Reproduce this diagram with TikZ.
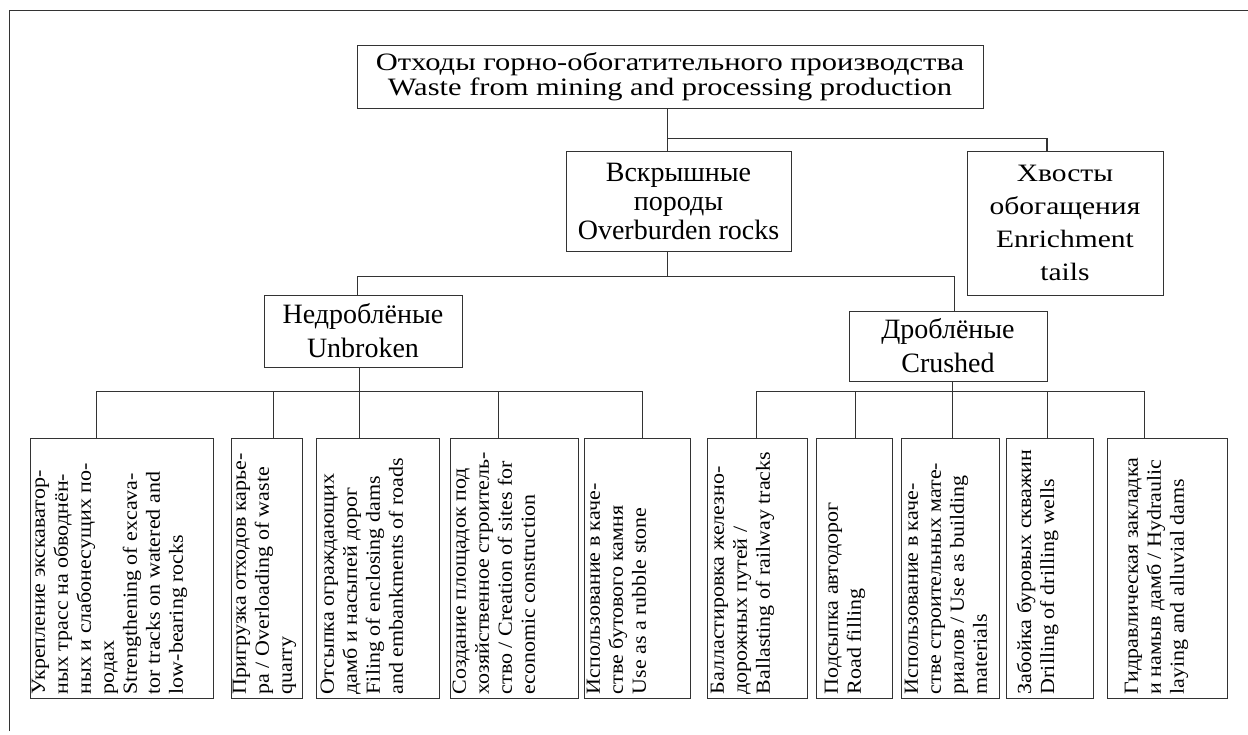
\documentclass[tikz,border=0pt]{standalone}
\usepackage{fontspec}
\setmainfont{Liberation Serif}
\newfontfamily\cmlike[FakeStretch=1.1]{Liberation Serif}
\newfontfamily\tailfont[FakeStretch=1.18]{Liberation Serif}
\newfontfamily\topfont[FakeStretch=1.22]{Liberation Serif}
\usetikzlibrary{calc}
\begin{document}
\begin{tikzpicture}[x=1pt,y=-1pt,
  box/.style={draw=black!80, line width=0.9pt, inner sep=0pt},
  conn/.style={draw=black!80, line width=0.9pt},
  vtext/.style={rotate=90, anchor=north west, inner sep=0pt, align=left,
    font=\cmlike\fontsize{20}{23}\selectfont},
]
\useasboundingbox (0,0) rectangle (1248,734);
% frame
\draw[conn] (9,731) -- (9,10) -- (1248,10);

% upper nodes
\node[box, minimum width=626, minimum height=63, align=center,
  font=\topfont\fontsize{25}{25}\selectfont] (top) at (670,76.5)
  {Отходы горно-обогатительного производства\\Waste from mining and processing production};
\node[box, minimum width=225, minimum height=100, align=center,
  font=\fontsize{28}{29}\selectfont] (vskr) at (678.5,201)
  {Вскрышные\\породы\\Overburden rocks};
\node[box, minimum width=196, minimum height=144, align=center,
  font=\tailfont\fontsize{25}{33}\selectfont] (tails) at (1065,223)
  {Хвосты\\обогащения\\Enrichment\\tails};
\node[box, minimum width=198, minimum height=72, align=center,
  font=\fontsize{28}{34}\selectfont] (unbr) at (363,331)
  {Недроблёные\\Unbroken};
\node[box, minimum width=198, minimum height=70, align=center,
  font=\fontsize{28}{34}\selectfont] (crush) at (948,346)
  {Дроблёные\\Crushed};

% bottom boxes
\node[box, minimum width=183, minimum height=260] (b1) at (121.5,568) {};
\node[box, minimum width=71,  minimum height=260] (b2) at (266.5,568) {};
\node[box, minimum width=123, minimum height=260] (b3) at (377.5,568) {};
\node[box, minimum width=128, minimum height=260] (b4) at (514,568) {};
\node[box, minimum width=106, minimum height=260] (b5) at (637,568) {};
\node[box, minimum width=100, minimum height=260] (b6) at (757,568) {};
\node[box, minimum width=76,  minimum height=260] (b7) at (854,568) {};
\node[box, minimum width=98,  minimum height=260] (b8) at (950,568) {};
\node[box, minimum width=87,  minimum height=260] (b9) at (1049.5,568) {};
\node[box, minimum width=120, minimum height=260] (b10) at (1167,568) {};

\node[vtext] (t1) at ($(b1.south west)+(2,-4)$)
  {Укрепление экскаватор-\\ных трасс на обводнён-\\ных и слабонесущих по-\\родах\\Strengthening of excava-\\tor tracks on watered and\\low-bearing rocks};
\node[vtext] (t2) at ($(b2.south west)+(2,-4)$)
  {Пригрузка отходов карье-\\ра / Overloading of waste\\quarry};
\node[vtext] (t3) at ($(b3.south west)+(5,-4)$)
  {Отсыпка ограждающих\\дамб и насыпей дорог\\Filing of enclosing dams\\and embankments of roads};
\node[vtext] (t4) at ($(b4.south west)+(3,-4)$)
  {Создание площадок под\\хозяйственное строитель-\\ство / Creation of sites for\\economic construction};
\node[vtext] (t5) at ($(b5.south west)+(3,-4)$)
  {Использование в каче-\\стве бутового камня\\Use as a rubble stone};
\node[vtext] (t6) at ($(b6.south west)+(4,-4)$)
  {Балластировка железно-\\дорожных путей /\\Ballasting of railway tracks};
\node[vtext] (t7) at ($(b7.south west)+(9,-4)$)
  {Подсыпка автодорог\\Road filling};
\node[vtext] (t8) at ($(b8.south west)+(4,-4)$)
  {Использование в каче-\\стве строительных мате-\\риалов / Use as building\\materials};
\node[vtext] (t9) at ($(b9.south west)+(11,-4)$)
  {Забойка буровых скважин\\Drilling of drilling wells};
\node[vtext] (t10) at ($(b10.south west)+(18,-4)$)
  {Гидравлическая закладка\\и намыв дамб / Hydraulic\\laying and alluvial dams};

% connectors level 1
\coordinate (j0) at (667,138);
\coordinate (j0t) at (1047,138);
\draw[conn] (j0 |- top.south) -- (j0 |- vskr.north);
\draw[conn] (j0) -- (j0t);
\draw[conn, line width=2pt] (j0t) -- (j0t |- tails.north);

% level 2
\coordinate (j1) at (667,276);
\coordinate (j1l) at (357,276);
\coordinate (j1r) at (954,276);
\draw[conn] (j1 |- vskr.south) -- (j1);
\draw[conn] (j1l |- unbr.north) -- (j1l) -- (j1r) -- (j1r |- crush.north);

% level 3 left
\coordinate (u) at (359,391);
\coordinate (d1) at (96,391);
\coordinate (d2) at (273,391);
\coordinate (d4) at (498,391);
\coordinate (d5) at (642,391);
\draw[conn] (u |- unbr.south) -- (u |- b3.north);
\draw[conn] (d1) -- (d5);
\draw[conn] (d1) -- (d1 |- b1.north);
\draw[conn] (d2) -- (d2 |- b2.north);
\draw[conn] (d4) -- (d4 |- b4.north);
\draw[conn] (d5) -- (d5 |- b5.north);

% level 3 right
\coordinate (c) at (952,391);
\coordinate (e1) at (756,391);
\coordinate (e2) at (855,391);
\coordinate (e4) at (1047,391);
\coordinate (e5) at (1144,391);
\draw[conn] (c |- crush.south) -- (c |- b8.north);
\draw[conn] (e1) -- (e5);
\draw[conn] (e1) -- (e1 |- b6.north);
\draw[conn] (e2) -- (e2 |- b7.north);
\draw[conn] (e4) -- (e4 |- b9.north);
\draw[conn] (e5) -- (e5 |- b10.north);
\end{tikzpicture}
\end{document}
